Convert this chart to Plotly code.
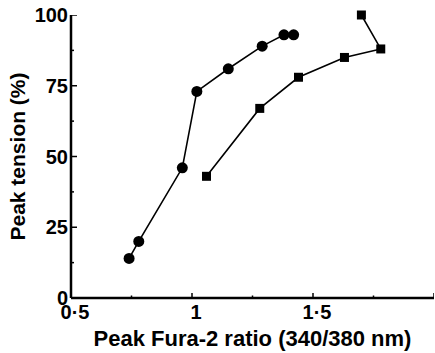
import plotly.graph_objects as go

circle_x = [0.74, 0.78, 0.96, 1.02, 1.15, 1.29, 1.38, 1.42]
circle_y = [14, 20, 46, 73, 81, 89, 93, 93]
square_x = [1.06, 1.28, 1.44, 1.63, 1.78, 1.70]
square_y = [43, 67, 78, 85, 88, 100]

x_tickvals = [0.5, 1, 1.5, 2]
x_ticktext = ["0·5", "1", "1·5", "2"]
x_minor = [0.75, 1.25, 1.75]
y_tickvals = [0, 25, 50, 75, 100]
y_ticktext = ["0", "25", "50", "75", "100"]
y_minor = [12.5, 37.5, 62.5, 87.5]

FONT = "Liberation Sans, Arial, Helvetica, sans-serif"

fig = go.Figure()
fig.add_trace(go.Scatter(x=circle_x, y=circle_y, mode="lines+markers",
                         line=dict(color="black", width=1.6),
                         marker=dict(symbol="circle", size=11, color="black"),
                         showlegend=False, cliponaxis=False))
fig.add_trace(go.Scatter(x=square_x, y=square_y, mode="lines+markers",
                         line=dict(color="black", width=1.6),
                         marker=dict(symbol="square", size=9, color="black"),
                         showlegend=False, cliponaxis=False))

# axis lines drawn as shapes (paper coordinates)
fig.add_shape(type="line", xref="paper", yref="paper", x0=0, x1=1, y0=0, y1=0,
              line=dict(color="black", width=2.5))
fig.add_shape(type="line", xref="paper", yref="paper", x0=0, x1=0, y0=0, y1=1,
              line=dict(color="black", width=2.5))
# x ticks (inside, pointing up)
for v in x_tickvals:
    fig.add_shape(type="line", xref="x", yref="paper", ysizemode="pixel", yanchor=0,
                  x0=v, x1=v, y0=0, y1=5, line=dict(color="black", width=1.5))
for v in x_minor:
    fig.add_shape(type="line", xref="x", yref="paper", ysizemode="pixel", yanchor=0,
                  x0=v, x1=v, y0=0, y1=2.5, line=dict(color="black", width=1.5))
# y ticks (inside, pointing right)
for v in y_tickvals:
    fig.add_shape(type="line", xref="paper", yref="y", xsizemode="pixel", xanchor=0,
                  x0=0, x1=6, y0=v, y1=v, line=dict(color="black", width=1.5))
for v in y_minor:
    fig.add_shape(type="line", xref="paper", yref="y", xsizemode="pixel", xanchor=0,
                  x0=0, x1=3, y0=v, y1=v, line=dict(color="black", width=1.5))

fig.update_layout(
    width=435, height=353,
    margin=dict(l=71, r=1, t=15, b=55),
    paper_bgcolor="white", plot_bgcolor="white",
    font=dict(family=FONT, color="black"),
)
fig.update_xaxes(
    range=[0.5, 2], showgrid=False, zeroline=False, showline=False, ticks="",
    tickmode="array", tickvals=x_tickvals, ticktext=x_ticktext,
    tickfont=dict(family=FONT, size=20, weight="bold"),
    ticklabelstandoff=0, ticklabelshift=4,
    title=dict(text="Peak Fura-2 ratio (340/380 nm)", standoff=8,
               font=dict(family=FONT, size=22, weight="bold")),
)
fig.update_yaxes(
    range=[0, 100], showgrid=False, zeroline=False, showline=False, ticks="",
    tickmode="array", tickvals=y_tickvals, ticktext=y_ticktext,
    tickfont=dict(family=FONT, size=20, weight="bold"),
    ticklabelstandoff=2,
    title=dict(text="Peak tension (%)", standoff=3,
               font=dict(family=FONT, size=21, weight="bold")),
)

fig.write_html("out.html")
